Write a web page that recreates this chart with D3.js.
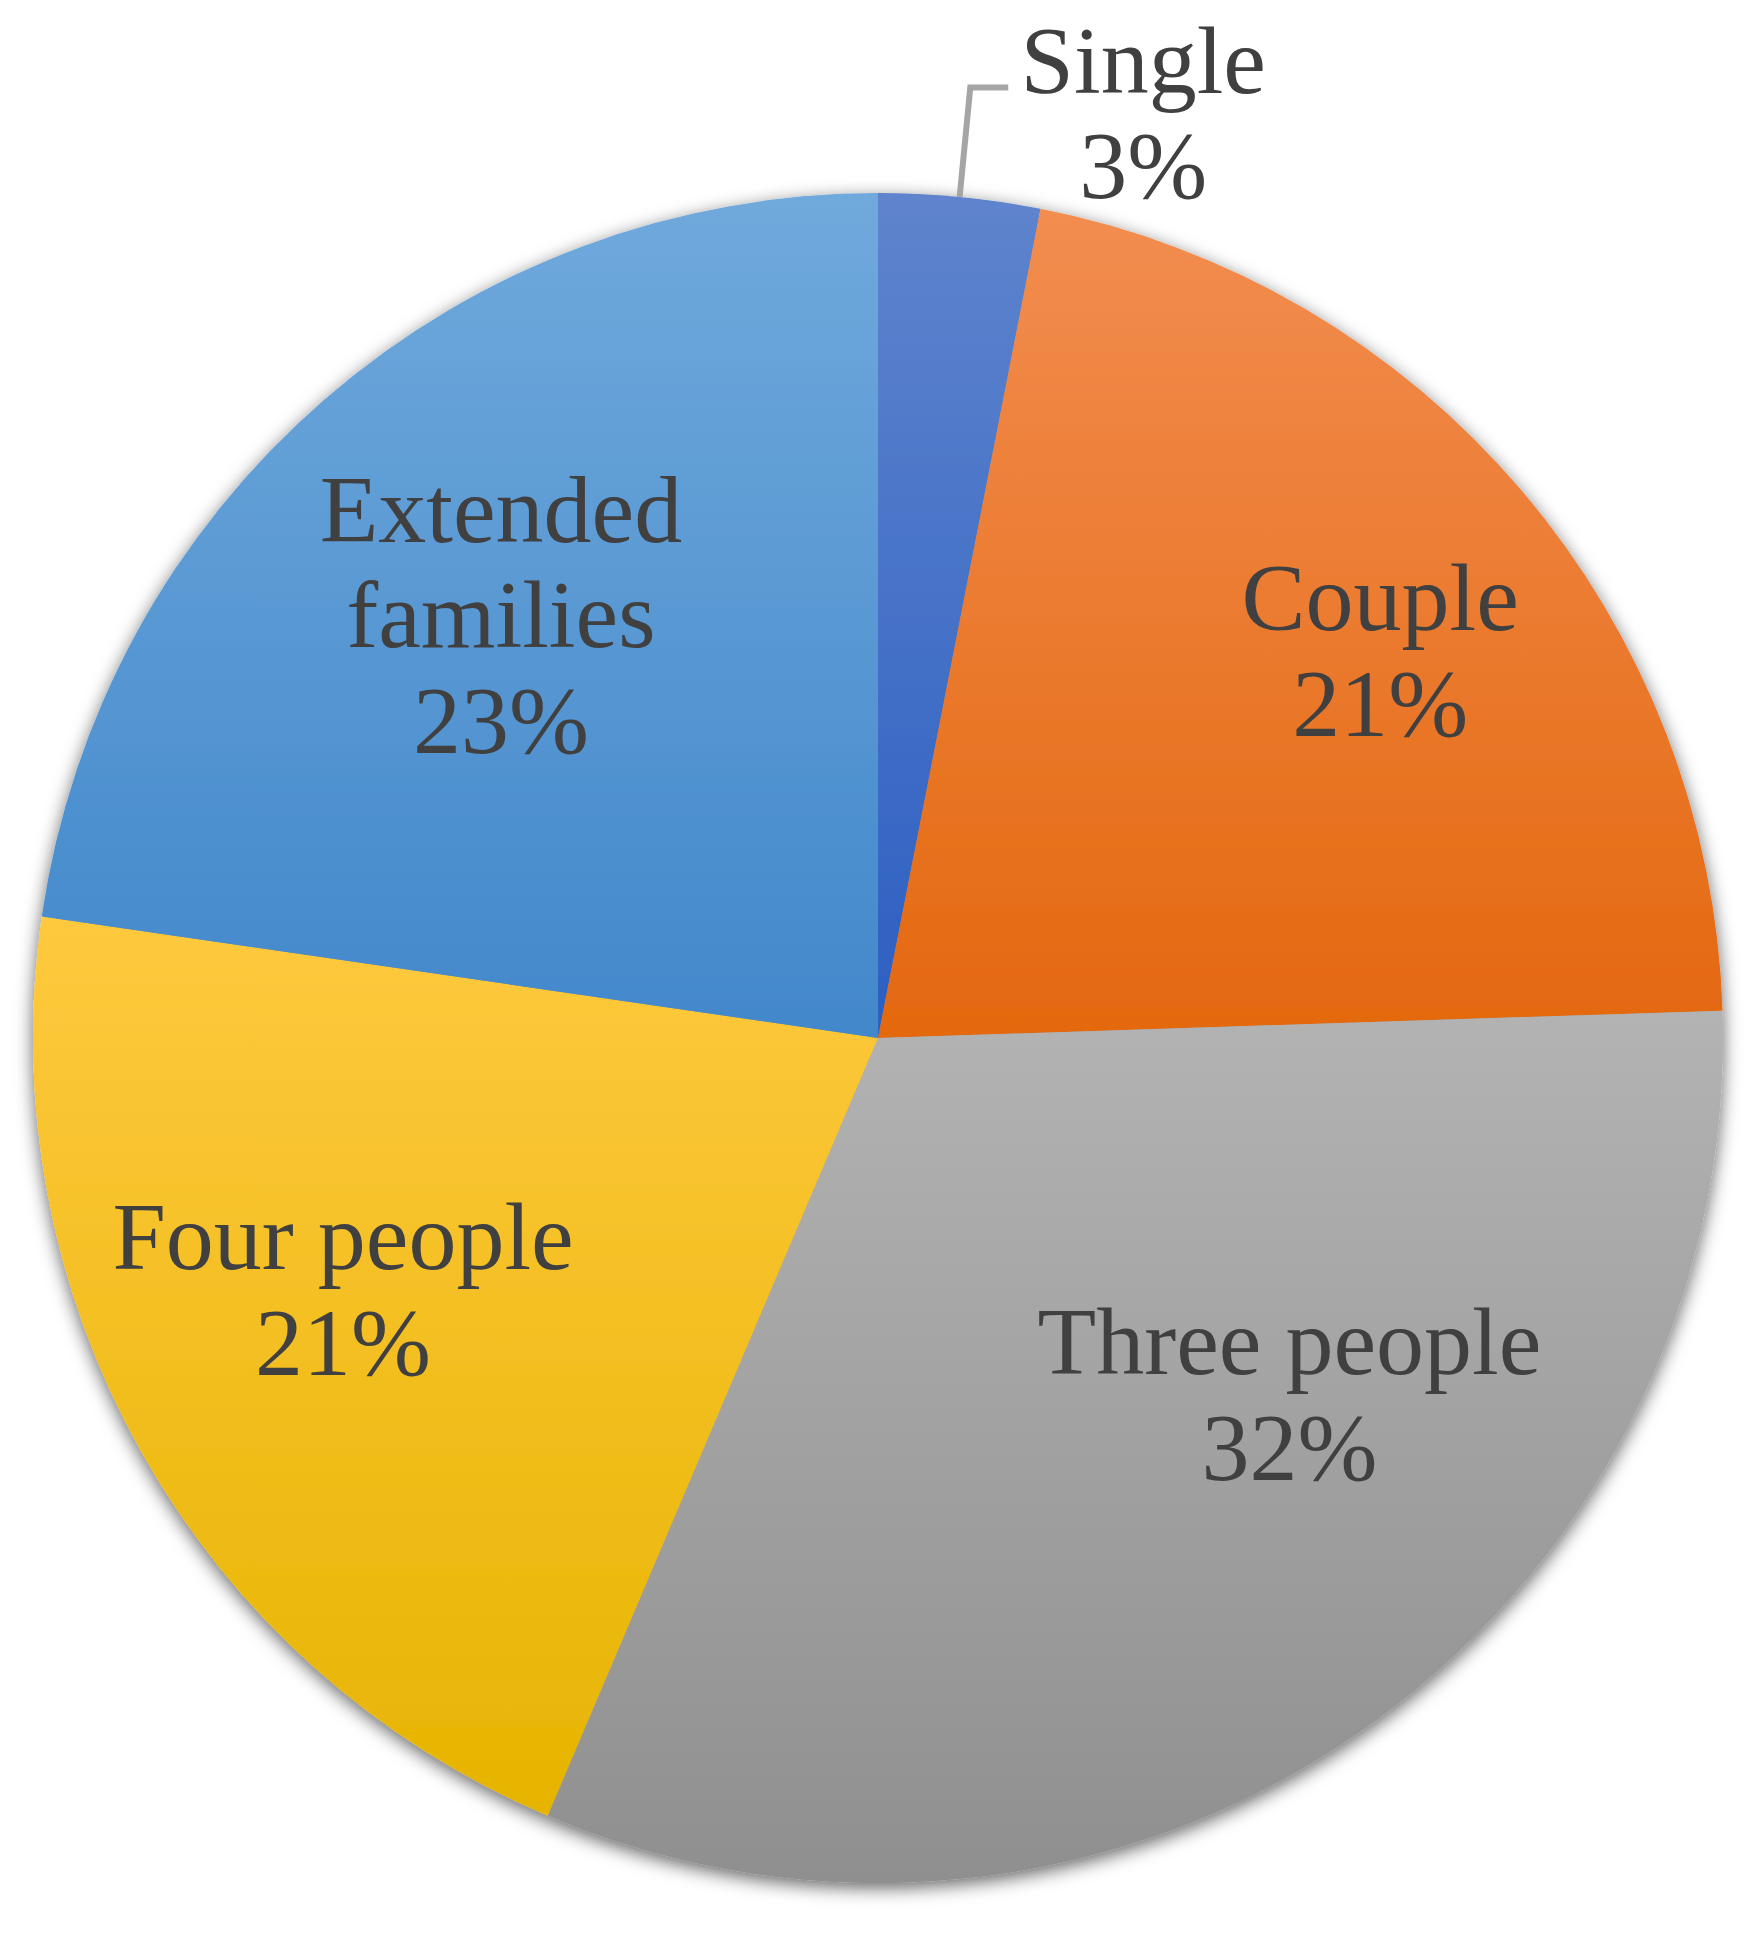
<!DOCTYPE html>
<html>
<head>
<meta charset="utf-8">
<script src="https://cdn.jsdelivr.net/npm/d3@7"></script>
<style>
  html, body { margin: 0; padding: 0; background: #ffffff; }
  svg { display: block; }
</style>
</head>
<body>
<svg id="chart" width="1759" height="1938"></svg>
<script>
// ---- data ----
const categories = ["Single", "Couple", "Three people", "Four people", "Extended families"];
const values = [3.08, 21.4, 31.9, 20.9, 22.7];
const labelLines = [["Single"], ["Couple"], ["Three people"], ["Four people"], ["Extended", "families"]];

// ---- styling / layout (not data) ----
const topColors    = ["#5f84cd", "#f28d50", "#b3b3b3", "#ffc93f", "#70a9dc"];
const bottomColors = ["#2c5fc2", "#e4680f", "#8f8f8f", "#e6b400", "#4288cb"];
// label placement: angle nudge (deg) and radius fraction; outside = leader label
const labelLayout = [
  { outside: true, k: 1.13 },
  { da: 2.8,  k: 0.75 },
  { da: -14.6, k: 0.645 },
  { da: 4.1,  k: 0.70 },
  { da: -0.9, k: 0.67 }
];

const W = 1759, H = 1938;
const cx = 878, cy = 1038, R = 845;
const fontSize = 96, lineH = 105.5;

const svg = d3.select("#chart");
const defs = svg.append("defs");

const filt = defs.append("filter").attr("id", "shadow")
  .attr("x", "-10%").attr("y", "-10%").attr("width", "120%").attr("height", "120%");
filt.append("feDropShadow")
  .attr("dx", 0).attr("dy", 5).attr("stdDeviation", 9)
  .attr("flood-color", "#000").attr("flood-opacity", 0.6);

categories.forEach((c, i) => {
  const g = defs.append("linearGradient").attr("id", "grad" + i)
    .attr("x1", 0).attr("y1", 0).attr("x2", 0).attr("y2", 1);
  g.append("stop").attr("offset", "0%").attr("stop-color", topColors[i]);
  g.append("stop").attr("offset", "100%").attr("stop-color", bottomColors[i]);
});

const pie = d3.pie().sort(null).value(d => d.value);
const data = categories.map((c, i) => ({ name: c, value: values[i], idx: i }));
const arcs = pie(data);
const total = d3.sum(values);

const arc = d3.arc().innerRadius(0).outerRadius(R);

const gPie = svg.append("g").attr("transform", `translate(${cx},${cy})`)
  .attr("filter", "url(#shadow)");
gPie.selectAll("path").data(arcs).join("path")
  .attr("d", arc)
  .attr("fill", d => `url(#grad${d.data.idx})`);

const gLab = svg.append("g").attr("transform", `translate(${cx},${cy})`);

function polar(angleRad, r) {
  return [Math.sin(angleRad) * r, -Math.cos(angleRad) * r];
}

arcs.forEach((a, i) => {
  const lay = labelLayout[i];
  const mid = (a.startAngle + a.endAngle) / 2;
  const pct = Math.round(a.value / total * 100) + "%";
  const lines = labelLines[i].concat([pct]);
  let x, y0;
  if (lay.outside) {
    const p0 = polar(mid, R);
    const p1 = polar(mid, R * lay.k);
    const p2 = [p1[0] + 38, p1[1]];
    gLab.append("polyline")
      .attr("points", [p0, p1, p2].map(p => p.join(",")).join(" "))
      .attr("fill", "none").attr("stroke", "#a5a5a5").attr("stroke-width", 6);
    x = p2[0] + 135;
    y0 = p2[1] + 5;
  } else {
    const ang = mid + lay.da * Math.PI / 180;
    const c = polar(ang, R * lay.k);
    x = c[0];
    const blockH = (lines.length - 1) * lineH;
    y0 = c[1] - blockH / 2 + 0.33 * fontSize;
  }
  const t = gLab.append("text")
    .attr("text-anchor", "middle")
    .attr("font-family", "'Liberation Serif', 'Times New Roman', serif")
    .attr("font-size", fontSize)
    .attr("fill", "#404040");
  lines.forEach((ln, j) => {
    t.append("tspan").attr("x", x).attr("y", y0 + j * lineH).text(ln);
  });
});
</script>
</body>
</html>
